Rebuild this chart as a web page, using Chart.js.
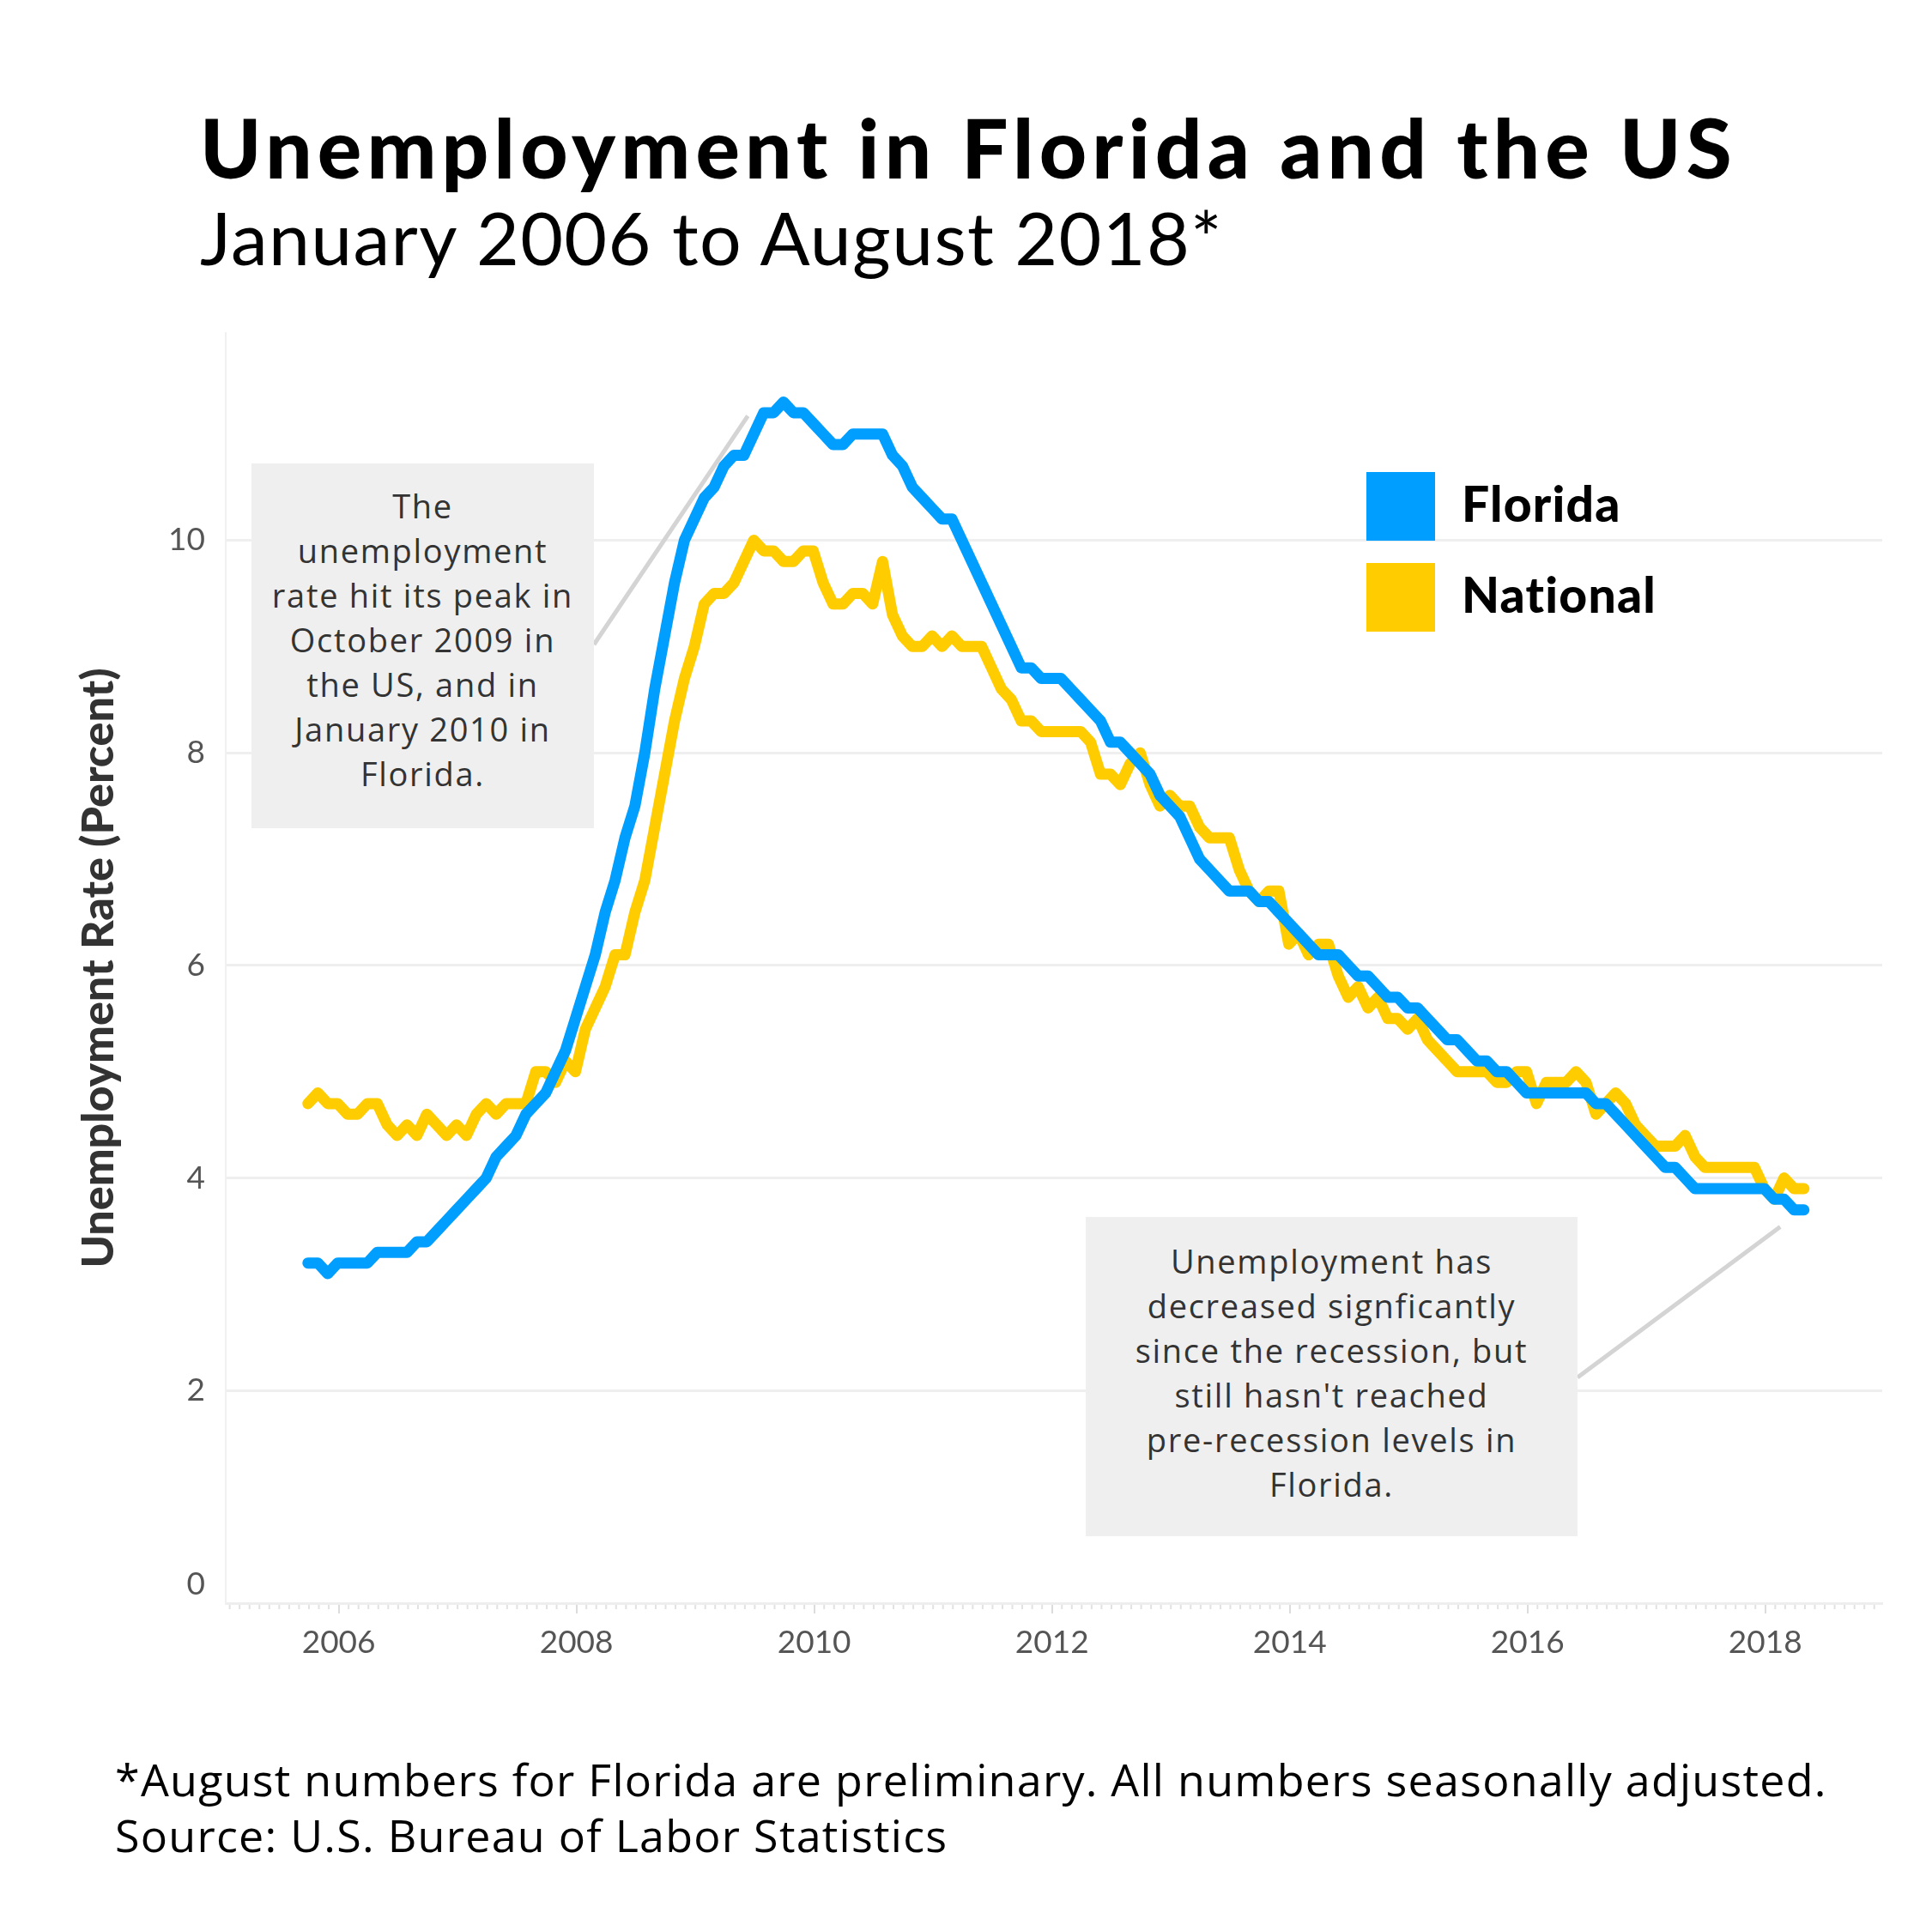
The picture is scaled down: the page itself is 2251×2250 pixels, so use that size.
<!DOCTYPE html>
<html>
<head>
<meta charset="utf-8">
<script src="https://cdn.jsdelivr.net/npm/chart.js@4.4.1/dist/chart.umd.min.js"></script>
<style>
  html, body { margin: 0; padding: 0; background: #fff; }
  #wrap { position: relative; width: 2251px; height: 2250px; overflow: hidden; background: #fff; font-family: Lato, "Open Sans", sans-serif; }
  #c { position: absolute; left: 0; top: 0; }
  .txt { position: absolute; white-space: nowrap; line-height: 1; color: #000; }
  #title { left: 233px; top: 123px; font-size: 96px; font-weight: 900; letter-spacing: 6.2px; }
  #subtitle { left: 233px; top: 233px; font-size: 86px; font-weight: 400; letter-spacing: 1.3px; }
  .foot { left: 134px; font-family: "Open Sans", Lato, sans-serif; font-size: 52px; font-weight: 400; letter-spacing: 1.25px; }
  .swatch { position: absolute; width: 80px; height: 80px; }
  .legtxt { position: absolute; left: 1703px; font-size: 57px; font-weight: 900; line-height: 1; color: #000; white-space: nowrap; letter-spacing: 1.2px; }
  .note { position: absolute; background: #efefef; text-align: center; color: #333; font-family: "Open Sans", Lato, sans-serif; font-size: 38px; letter-spacing: 1.7px; line-height: 52px; box-sizing: border-box; white-space: nowrap; }
</style>
</head>
<body>
<div id="wrap">
  <canvas id="c" width="2251" height="2250" style="width:2251px;height:2250px;"></canvas>
  <div id="title" class="txt">Unemployment in Florida and the US</div>
  <div id="subtitle" class="txt">January 2006 to August 2018*</div>
  <div id="legend"></div>
  <div id="notes"></div>
  <div class="txt foot" style="top:2047px;">*August numbers for Florida are preliminary. All numbers seasonally adjusted.</div>
  <div class="txt foot" style="top:2112px;">Source: U.S. Bureau of Labor Statistics</div>
</div>
<script>
// ---------------- DATA ----------------
// Monthly values, January 2006 .. August 2018 (index 0 = Jan 2006)
const startYear = 2006;
const seriesNames = ['Florida', 'National'];

const florida = [
  3.2, 3.2, 3.1, 3.2, 3.2, 3.2, 3.2, 3.3, 3.3, 3.3, 3.3, 3.4,   // 2006
  3.4, 3.5, 3.6, 3.7, 3.8, 3.9, 4.0, 4.2, 4.3, 4.4, 4.6, 4.7,   // 2007
  4.8, 5.0, 5.2, 5.5, 5.8, 6.1, 6.5, 6.8, 7.2, 7.5, 8.0, 8.6,   // 2008
  9.1, 9.6, 10.0, 10.2, 10.4, 10.5, 10.7, 10.8, 10.8, 11.0, 11.2, 11.2, // 2009
  11.3, 11.2, 11.2, 11.1, 11.0, 10.9, 10.9, 11.0, 11.0, 11.0, 11.0, 10.8, // 2010
  10.7, 10.5, 10.4, 10.3, 10.2, 10.2, 10.0, 9.8, 9.6, 9.4, 9.2, 9.0, // 2011
  8.8, 8.8, 8.7, 8.7, 8.7, 8.6, 8.5, 8.4, 8.3, 8.1, 8.1, 8.0,   // 2012
  7.9, 7.8, 7.6, 7.5, 7.4, 7.2, 7.0, 6.9, 6.8, 6.7, 6.7, 6.7,   // 2013
  6.6, 6.6, 6.5, 6.4, 6.3, 6.2, 6.1, 6.1, 6.1, 6.0, 5.9, 5.9,   // 2014
  5.8, 5.7, 5.7, 5.6, 5.6, 5.5, 5.4, 5.3, 5.3, 5.2, 5.1, 5.1,   // 2015
  5.0, 5.0, 4.9, 4.8, 4.8, 4.8, 4.8, 4.8, 4.8, 4.8, 4.7, 4.7,   // 2016
  4.6, 4.5, 4.4, 4.3, 4.2, 4.1, 4.1, 4.0, 3.9, 3.9, 3.9, 3.9,   // 2017
  3.9, 3.9, 3.9, 3.9, 3.8, 3.8, 3.7, 3.7                        // 2018
];

const national = [
  4.7, 4.8, 4.7, 4.7, 4.6, 4.6, 4.7, 4.7, 4.5, 4.4, 4.5, 4.4,   // 2006
  4.6, 4.5, 4.4, 4.5, 4.4, 4.6, 4.7, 4.6, 4.7, 4.7, 4.7, 5.0,   // 2007
  5.0, 4.9, 5.1, 5.0, 5.4, 5.6, 5.8, 6.1, 6.1, 6.5, 6.8, 7.3,   // 2008
  7.8, 8.3, 8.7, 9.0, 9.4, 9.5, 9.5, 9.6, 9.8, 10.0, 9.9, 9.9,  // 2009
  9.8, 9.8, 9.9, 9.9, 9.6, 9.4, 9.4, 9.5, 9.5, 9.4, 9.8, 9.3,   // 2010
  9.1, 9.0, 9.0, 9.1, 9.0, 9.1, 9.0, 9.0, 9.0, 8.8, 8.6, 8.5,   // 2011
  8.3, 8.3, 8.2, 8.2, 8.2, 8.2, 8.2, 8.1, 7.8, 7.8, 7.7, 7.9,   // 2012
  8.0, 7.7, 7.5, 7.6, 7.5, 7.5, 7.3, 7.2, 7.2, 7.2, 6.9, 6.7,   // 2013
  6.6, 6.7, 6.7, 6.2, 6.3, 6.1, 6.2, 6.2, 5.9, 5.7, 5.8, 5.6,   // 2014
  5.7, 5.5, 5.5, 5.4, 5.5, 5.3, 5.2, 5.1, 5.0, 5.0, 5.0, 5.0,   // 2015
  4.9, 4.9, 5.0, 5.0, 4.7, 4.9, 4.9, 4.9, 5.0, 4.9, 4.6, 4.7,   // 2016
  4.8, 4.7, 4.5, 4.4, 4.3, 4.3, 4.3, 4.4, 4.2, 4.1, 4.1, 4.1,   // 2017
  4.1, 4.1, 4.1, 3.9, 3.8, 4.0, 3.9, 3.9                        // 2018
];

const xTickYears = [2006, 2008, 2010, 2012, 2014, 2016, 2018];
const yTickValues = [0, 2, 4, 6, 8, 10];

// Annotation texts (line breaks as in the original)
const note1Lines = ['The', 'unemployment', 'rate hit its peak in', 'October 2009 in', 'the US, and in', 'January 2010 in', 'Florida.'];
const note2Lines = ['Unemployment has', 'decreased signficantly', 'since the recession, but', "still hasn't reached", 'pre-recession levels in', 'Florida.'];

// ---------------- STYLE / LAYOUT ----------------
const seriesColors = ['#009EFF', '#FFCC00'];
const tickOffset = 3.1;          // months between Jan of a year and its labelled tick
const xMin = -8.3, xMax = 158.9;  // axis range in months since Jan 2006
const yMin = 0, yMax = 11.95;

const notes = [
  { left: 293, top: 540, width: 399, height: 425, padTop: 23, lines: note1Lines,
    edge: { x: 692, y: 751 }, target: { x: 44.4, y: 11.17 } },
  { left: 1265, top: 1418, width: 573, height: 372, padTop: 25, lines: note2Lines,
    edge: { x: 1838, y: 1605 }, target: { x: 148.6, y: 3.54 } }
];

// legend
const legendEl = document.getElementById('legend');
seriesNames.forEach((name, k) => {
  const top = 550 + k * 106;
  const sw = document.createElement('div');
  sw.className = 'swatch';
  sw.style.left = '1592px'; sw.style.top = top + 'px'; sw.style.background = seriesColors[k];
  legendEl.appendChild(sw);
  const t = document.createElement('div');
  t.className = 'legtxt';
  t.style.top = (top + 8) + 'px';
  t.textContent = name;
  legendEl.appendChild(t);
});

// notes
const notesEl = document.getElementById('notes');
notes.forEach(n => {
  const d = document.createElement('div');
  d.className = 'note';
  d.style.left = n.left + 'px'; d.style.top = n.top + 'px';
  d.style.width = n.width + 'px'; d.style.height = n.height + 'px';
  d.style.paddingTop = n.padTop + 'px';
  d.innerHTML = n.lines.map(s => s.replace(/&/g, '&amp;').replace(/</g, '&lt;')).join('<br>');
  notesEl.appendChild(d);
});

const extras = {
  id: 'extras',
  beforeDatasetsDraw(chart) {
    const { ctx, scales: { x, y } } = chart;
    ctx.save();
    ctx.strokeStyle = '#d4d4d4';
    ctx.lineWidth = 5;
    notes.forEach(n => {
      ctx.beginPath();
      ctx.moveTo(n.edge.x, n.edge.y);
      ctx.lineTo(x.getPixelForValue(n.target.x), y.getPixelForValue(n.target.y));
      ctx.stroke();
    });
    ctx.restore();
  },
  afterDraw(chart) {
    const { ctx, scales: { x }, chartArea } = chart;
    ctx.save();
    ctx.strokeStyle = '#e2e2e2';
    ctx.lineWidth = 2;
    const kStart = Math.ceil(xMin - tickOffset), kEnd = Math.floor(xMax - tickOffset);
    for (let k = kStart; k <= kEnd; k++) {
      if (k % 24 === 0) continue;
      const px = x.getPixelForValue(tickOffset + k);
      ctx.beginPath();
      ctx.moveTo(px, chartArea.bottom + 2);
      ctx.lineTo(px, chartArea.bottom + 7);
      ctx.stroke();
    }
    ctx.restore();
  }
};

const toPoints = arr => arr.map((v, i) => ({ x: i, y: v }));
const lineStyle = color => ({
  borderColor: color, backgroundColor: color, borderWidth: 13, pointRadius: 0,
  pointHoverRadius: 0, tension: 0, fill: false, borderJoinStyle: 'round', borderCapStyle: 'round'
});

new Chart(document.getElementById('c'), {
  type: 'line',
  data: {
    datasets: [
      Object.assign({ label: seriesNames[0], data: toPoints(florida) }, lineStyle(seriesColors[0])),
      Object.assign({ label: seriesNames[1], data: toPoints(national) }, lineStyle(seriesColors[1]))
    ]
  },
  options: {
    responsive: false,
    animation: false,
    devicePixelRatio: 1,
    layout: { padding: { left: 0, top: 388, right: 58, bottom: 0 } },
    plugins: { legend: { display: false }, tooltip: { enabled: false }, title: { display: false } },
    scales: {
      x: {
        type: 'linear', min: xMin, max: xMax,
        afterFit(s) { s.height = 382; },
        afterBuildTicks(s) { s.ticks = xTickYears.map(yr => ({ value: (yr - startYear) * 12 + tickOffset })); },
        ticks: {
          callback: (v, i) => String(xTickYears[i]),
          autoSkip: false, maxRotation: 0, minRotation: 0,
          font: { family: 'Lato', size: 37 }, color: '#555', padding: 12
        },
        grid: { drawOnChartArea: false, drawTicks: true, tickLength: 12, color: '#dcdcdc', lineWidth: 2 },
        border: { display: true, color: '#eeeeee', width: 3 }
      },
      y: {
        min: yMin, max: yMax,
        afterFit(s) { s.width = 263; },
        afterBuildTicks(s) { s.ticks = yTickValues.map(v => ({ value: v })); },
        ticks: {
          font: { family: 'Lato', size: 37 }, color: '#555', padding: 24,
          // the zero label sits slightly above the baseline, as in the original
          callback: v => (v === 0 ? ['0', ''] : String(v))
        },
        grid: { color: '#efefef', lineWidth: 3, drawTicks: false },
        border: { display: true, color: '#f0f0f0', width: 2 },
        title: {
          display: true, text: 'Unemployment Rate (Percent)', color: '#333',
          font: { family: 'Lato', weight: '900', size: 52 }, padding: { top: 84, bottom: 0 }
        }
      }
    }
  },
  plugins: [extras]
});
</script>
</body>
</html>
